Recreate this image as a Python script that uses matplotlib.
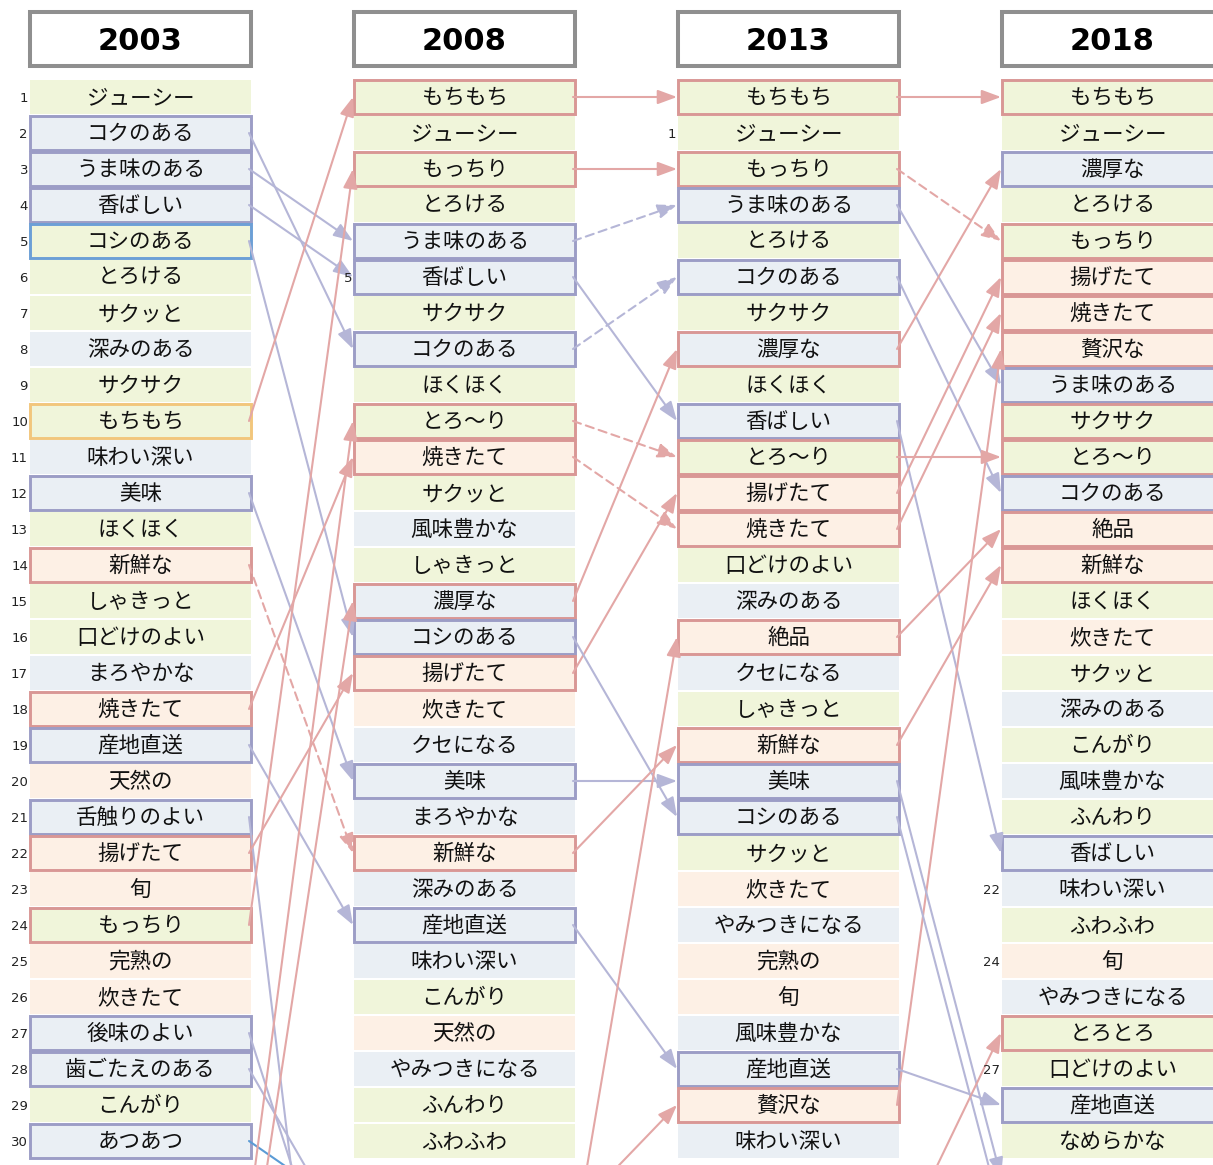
import matplotlib
matplotlib.use('Agg')
import matplotlib.pyplot as plt
from matplotlib.patches import Rectangle, FancyArrowPatch

plt.rcParams['font.family'] = ['Noto Sans CJK JP', 'DejaVu Sans']

years = ['2003', '2008', '2013', '2018']

words_2003 = ['ジューシー', 'コクのある', 'うま味のある', '香ばしい', 'コシのある', 'とろける',
              'サクッと', '深みのある', 'サクサク', 'もちもち', '味わい深い', '美味', 'ほくほく',
              '新鮮な', 'しゃきっと', '口どけのよい', 'まろやかな', '焼きたて', '産地直送', '天然の',
              '舌触りのよい', '揚げたて', '旬', 'もっちり', '完熟の', '炊きたて', '後味のよい',
              '歯ごたえのある', 'こんがり', 'あつあつ']
words_2008 = ['もちもち', 'ジューシー', 'もっちり', 'とろける', 'うま味のある', '香ばしい',
              'サクサク', 'コクのある', 'ほくほく', 'とろ～り', '焼きたて', 'サクッと', '風味豊かな',
              'しゃきっと', '濃厚な', 'コシのある', '揚げたて', '炊きたて', 'クセになる', '美味',
              'まろやかな', '新鮮な', '深みのある', '産地直送', '味わい深い', 'こんがり', '天然の',
              'やみつきになる', 'ふんわり', 'ふわふわ']
words_2013 = ['もちもち', 'ジューシー', 'もっちり', 'うま味のある', 'とろける', 'コクのある',
              'サクサク', '濃厚な', 'ほくほく', '香ばしい', 'とろ～り', '揚げたて', '焼きたて',
              '口どけのよい', '深みのある', '絶品', 'クセになる', 'しゃきっと', '新鮮な', '美味',
              'コシのある', 'サクッと', '炊きたて', 'やみつきになる', '完熟の', '旬', '風味豊かな',
              '産地直送', '贅沢な', '味わい深い']
words_2018 = ['もちもち', 'ジューシー', '濃厚な', 'とろける', 'もっちり', '揚げたて', '焼きたて',
              '贅沢な', 'うま味のある', 'サクサク', 'とろ～り', 'コクのある', '絶品', '新鮮な',
              'ほくほく', '炊きたて', 'サクッと', '深みのある', 'こんがり', '風味豊かな', 'ふんわり',
              '香ばしい', '味わい深い', 'ふわふわ', '旬', 'やみつきになる', 'とろとろ', '口どけのよい',
              '産地直送', 'なめらかな']

# fill category: g = texture, b = taste, p = freshness
fill_2003 = 'g b b b g g g b g g b b g p g g b p b p b p p g p p b b g b'.split()
fill_2008 = 'g g g g b b g b g g p g b g b b p p b b b p b b b g p b g g'.split()
fill_2013 = 'g g g b g b g b g b g p p g b p b g p b b g p b p p b b p b'.split()
fill_2018 = 'g g b g g p p p b g g b p p g p g b g b g b b g p b g g b g'.split()

# border: . none, r red, b blue, o orange, l light blue
edge_2003 = '. b b b l . . . . o . b . r . . . r b . b r . r . . b b . b'.split()
edge_2008 = 'r . r . b b . b . r r . . . r b r . . b . r . b . . . . . .'.split()
edge_2013 = 'r . r b . b . r . b r r r . . r . . r b b . . . . . . b r .'.split()
edge_2018 = 'r . b . r r r r b r r b r r . . . . . . . b . . . . r . b .'.split()

# rank numbers printed beside the columns
ranks_2003 = {r: str(r) for r in range(1, 31)}
ranks_2008 = {6: '5'}
ranks_2013 = {2: '1'}
ranks_2018 = {23: '22', 25: '24', 28: '27'}

# links between neighbouring years: (rank before, rank after, colour, dashed)
links_03_08 = [(2, 8, 'b', False), (3, 5, 'b', False), (4, 6, 'b', False), (5, 16, 'b', False),
               (12, 20, 'b', False), (19, 24, 'b', False), (21, 45, 'b', False),
               (27, 36, 'b', False), (28, 33, 'b', False), (30, 32, 'l', False),
               (10, 1, 'r', False), (24, 3, 'r', False), (18, 11, 'r', False),
               (22, 17, 'r', False), (14, 22, 'r', True), (32, 10, 'r', False),
               (34, 15, 'r', False)]
links_08_13 = [(1, 1, 'r', False), (3, 3, 'r', False), (5, 4, 'b', True), (6, 10, 'b', False),
               (8, 6, 'b', True), (10, 11, 'r', True), (11, 13, 'r', True), (15, 8, 'r', False),
               (17, 12, 'r', False), (16, 21, 'b', False), (20, 20, 'b', False),
               (22, 19, 'r', False), (24, 28, 'b', False), (33, 16, 'r', False),
               (32, 29, 'r', False)]
links_13_18 = [(1, 1, 'r', False), (3, 5, 'r', True), (4, 9, 'b', False), (6, 12, 'b', False),
               (8, 3, 'r', False), (10, 22, 'b', False), (11, 11, 'r', False),
               (12, 6, 'r', False), (13, 7, 'r', False), (29, 8, 'r', False),
               (16, 13, 'r', False), (19, 14, 'r', False), (20, 31, 'b', False),
               (21, 32, 'b', False), (28, 29, 'b', False), (33, 27, 'r', False)]

fill_colors = {'g': '#f0f5da', 'b': '#eaeff4', 'p': '#fdf0e5'}
edge_colors = {'r': '#d99795', 'b': '#9c9dc6', 'o': '#f2c67c', 'l': '#6c9fd6'}
link_colors = {'r': '#e3a7a6', 'b': '#b5b6d7', 'l': '#5b9bd5'}

words = [words_2003, words_2008, words_2013, words_2018]
fills = [fill_2003, fill_2008, fill_2013, fill_2018]
edges = [edge_2003, edge_2008, edge_2013, edge_2018]
ranks = [ranks_2003, ranks_2008, ranks_2013, ranks_2018]
links = [links_03_08, links_08_13, links_13_18]

W, H = 1213, 1165
col_left = [30, 354, 678, 1002]
col_w = 221
row_h = 36
box_h = 34


def row_y(r):
    return 97 + (r - 1) * row_h


fig = plt.figure(figsize=(W / 100, H / 100), dpi=100)
ax = fig.add_axes([0, 0, 1, 1])
ax.set_xlim(0, W)
ax.set_ylim(H, 0)
ax.axis('off')

for c, year in enumerate(years):
    x0 = col_left[c]
    ax.add_patch(Rectangle((x0, 12), col_w, 54, facecolor='white', edgecolor='#8f8f8f',
                           lw=2.9, zorder=2))
    ax.text(x0 + col_w / 2, 41, year, ha='center', va='center', fontsize=22,
            fontweight='bold', family='DejaVu Sans', zorder=5)
    for i, w in enumerate(words[c]):
        y = row_y(i + 1)
        e = edges[c][i]
        ax.add_patch(Rectangle((x0, y - box_h / 2), col_w, box_h,
                               facecolor=fill_colors[fills[c][i]],
                               edgecolor=edge_colors.get(e, 'none'),
                               lw=2.1 if e != '.' else 0, zorder=1))
        ax.text(x0 + col_w / 2, y + 1, w, ha='center', va='center', fontsize=15.5,
                color='#111111', zorder=5)
    for r, lab in ranks[c].items():
        ax.text(x0 - 2, row_y(r) + 1, lab, ha='right', va='center', fontsize=9.5,
                family='DejaVu Sans', color='#222222', zorder=5)

for c, gap in enumerate(links):
    xa = col_left[c] + col_w - 2
    xb = col_left[c + 1] - 1
    for src, dst, col, dashed in gap:
        arr = FancyArrowPatch((xa, row_y(src)), (xb, row_y(dst)),
                              arrowstyle='-|>,head_length=0.65,head_width=0.24',
                              mutation_scale=18, lw=1.5, color=link_colors[col],
                              linestyle=(0, (4, 2.5)) if dashed else '-',
                              shrinkA=0, shrinkB=0, zorder=3)
        ax.add_patch(arr)

fig.savefig('out.png', dpi=100)
